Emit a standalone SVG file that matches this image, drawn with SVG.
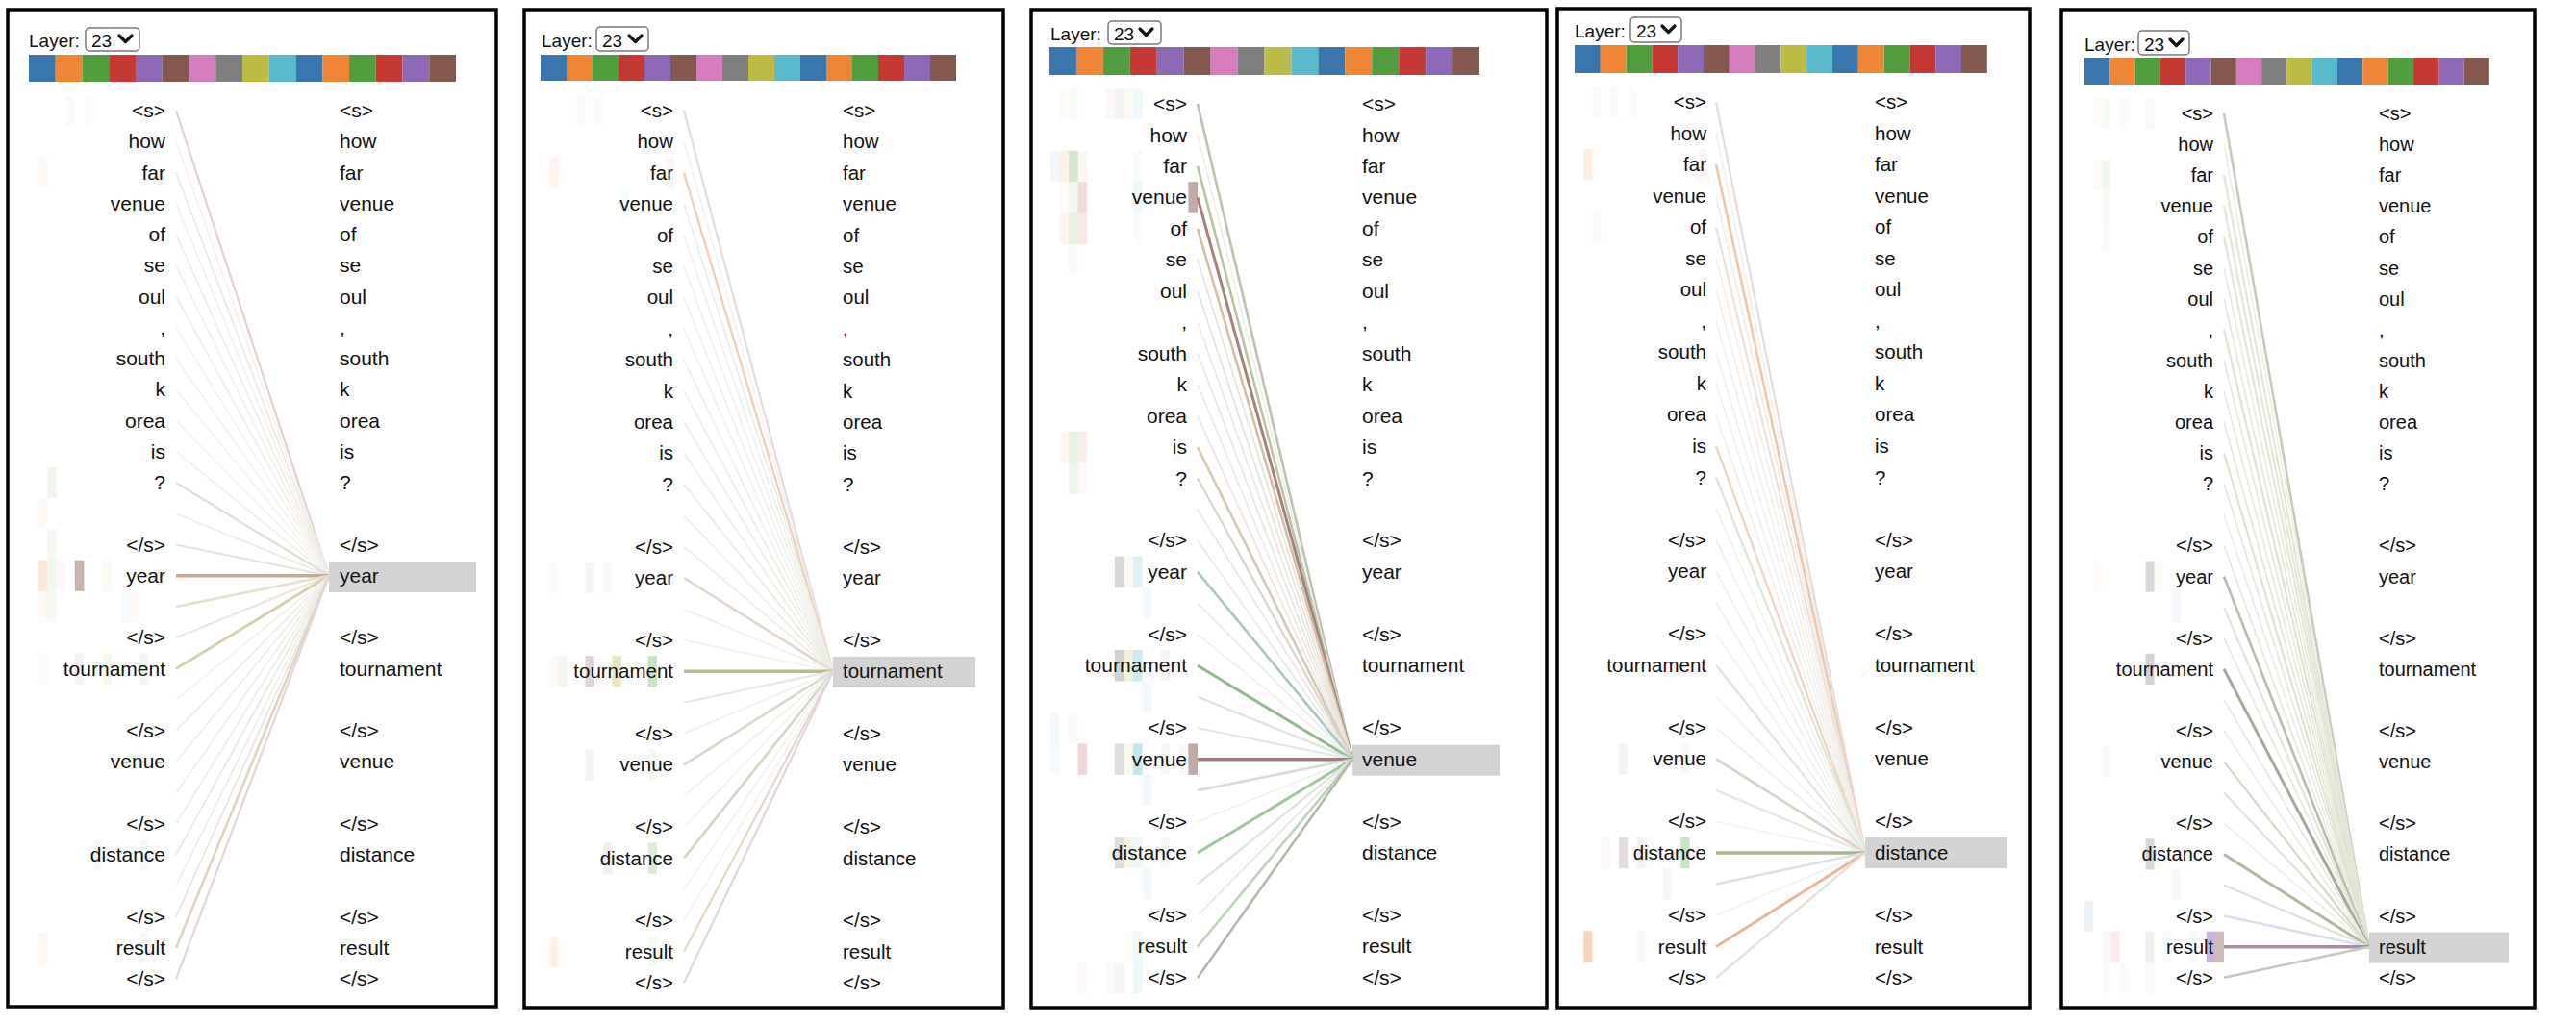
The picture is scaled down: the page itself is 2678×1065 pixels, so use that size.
<svg xmlns="http://www.w3.org/2000/svg" width="2678" height="1065" viewBox="0 0 2678 1065">
<style>
.frame{fill:#fff;stroke:#000;stroke-width:3.5}
.lbl{font-family:"Liberation Sans",Arial,sans-serif;font-size:19px;fill:#111}
.sel{fill:#fff;stroke:#777;stroke-width:1.5}
.chev{fill:none;stroke:#111;stroke-width:3.2;stroke-linecap:round;stroke-linejoin:round}
.tk{font-family:"Liberation Sans",Arial,sans-serif;fill:#111}
.l{text-anchor:end}
.hl{fill:#d3d3d3}
.c1{fill:#3a76ae}.c2{fill:#ef8636}.c3{fill:#519e3e}.c4{fill:#c53932}.c5{fill:#8d69b8}.c6{fill:#84584e}.c7{fill:#d57dbf}.c8{fill:#7f7f7f}.c9{fill:#bcbc45}.c10{fill:#57bbcc}
.conn line{fill:none}
</style>

<!-- ================= PANEL 1 ================= -->
<g id="panel-1">
<rect class="frame" x="8" y="10" width="508" height="1037"/>
<g id="p1-layer"><text class="lbl" x="30" y="49">Layer:</text><rect class="sel" x="89" y="29" width="56" height="24" rx="4"/><text class="lbl" x="95" y="49">23</text><path class="chev" d="M124,37 L130.5,43.5 L137,37"/></g>
<g id="p1-heads">
<rect class="c1" x="30" y="57" width="27.75" height="28"/><rect class="c2" x="57.75" y="57" width="27.75" height="28"/><rect class="c3" x="85.5" y="57" width="27.75" height="28"/><rect class="c4" x="113.25" y="57" width="27.75" height="28"/><rect class="c5" x="141" y="57" width="27.75" height="28"/><rect class="c6" x="168.75" y="57" width="27.75" height="28"/><rect class="c7" x="196.5" y="57" width="27.75" height="28"/><rect class="c8" x="224.25" y="57" width="27.75" height="28"/><rect class="c9" x="252" y="57" width="27.75" height="28"/><rect class="c10" x="279.75" y="57" width="27.75" height="28"/><rect class="c1" x="307.5" y="57" width="27.75" height="28"/><rect class="c2" x="335.25" y="57" width="27.75" height="28"/><rect class="c3" x="363" y="57" width="27.75" height="28"/><rect class="c4" x="390.75" y="57" width="27.75" height="28"/><rect class="c5" x="418.5" y="57" width="27.75" height="28"/><rect class="c6" x="446.25" y="57" width="27.75" height="28"/>
</g>
<g id="p1-heat">
<rect class="c5" x="68.2" y="99" width="9.6" height="32.3" fill-opacity="0.04"/><rect class="c7" x="87.4" y="99" width="9.6" height="32.3" fill-opacity="0.03"/>
<rect class="c2" x="39.6" y="163.4" width="9.6" height="32.3" fill-opacity="0.05"/>
<rect class="c3" x="49.1" y="485.9" width="9.6" height="32.3" fill-opacity="0.1"/>
<rect class="c2" x="39.6" y="518.1" width="9.6" height="32.3" fill-opacity="0.05"/>
<rect class="c3" x="49.1" y="550.4" width="9.6" height="32.3" fill-opacity="0.07"/>
<rect class="c2" x="39.6" y="582.6" width="9.6" height="32.3" fill-opacity="0.2"/><rect class="c3" x="49.1" y="582.6" width="9.6" height="32.3" fill-opacity="0.08"/><rect class="c4" x="58.7" y="582.6" width="9.6" height="32.3" fill-opacity="0.04"/><rect class="c6" x="77.8" y="582.6" width="9.6" height="32.3" fill-opacity="0.45"/><rect class="c9" x="106.5" y="582.6" width="9.6" height="32.3" fill-opacity="0.07"/>
<rect class="c2" x="39.6" y="614.9" width="9.6" height="32.3" fill-opacity="0.05"/><rect class="c3" x="49.1" y="614.9" width="9.6" height="32.3" fill-opacity="0.06"/><rect class="c1" x="125.6" y="614.9" width="9.6" height="32.3" fill-opacity="0.04"/><rect class="c2" x="135.2" y="614.9" width="9.6" height="32.3" fill-opacity="0.05"/>
<rect class="c2" x="39.6" y="679.4" width="9.6" height="32.3" fill-opacity="0.04"/><rect class="c6" x="77.8" y="679.4" width="9.6" height="32.3" fill-opacity="0.08"/><rect class="c9" x="106.5" y="679.4" width="9.6" height="32.3" fill-opacity="0.12"/><rect class="c3" x="144.7" y="679.4" width="9.6" height="32.3" fill-opacity="0.08"/>
<rect class="c8" x="96.9" y="872.9" width="9.6" height="32.3" fill-opacity="0.06"/><rect class="c3" x="144.7" y="872.9" width="9.6" height="32.3" fill-opacity="0.06"/>
<rect class="c2" x="39.6" y="969.6" width="9.6" height="32.3" fill-opacity="0.08"/><rect class="c3" x="144.7" y="969.6" width="9.6" height="32.3" fill-opacity="0.06"/>
</g>
<g id="p1-target-box"><rect class="hl" x="342" y="584" width="153" height="32"/></g>
<g class="conn" id="p1-connectors" stroke-width="1.6">
<line x1="183" y1="115" x2="342" y2="598.75" stroke="#e3d1cb" stroke-width="2.2"/>
<line x1="183" y1="147.25" x2="342" y2="598.75" stroke="#f5f1ee"/>
<line x1="183" y1="179.5" x2="342" y2="598.75" stroke="#efe6de"/>
<line x1="183" y1="211.75" x2="342" y2="598.75" stroke="#f3efea"/>
<line x1="183" y1="244" x2="342" y2="598.75" stroke="#f0eae3"/>
<line x1="183" y1="276.25" x2="342" y2="598.75" stroke="#f2eee8"/>
<line x1="183" y1="308.5" x2="342" y2="598.75" stroke="#f1ece5"/>
<line x1="183" y1="340.75" x2="342" y2="598.75" stroke="#f5f2ed"/>
<line x1="183" y1="373" x2="342" y2="598.75" stroke="#f4f1ec"/>
<line x1="183" y1="405.25" x2="342" y2="598.75" stroke="#f4f1ec"/>
<line x1="183" y1="437.5" x2="342" y2="598.75" stroke="#f4f1ec"/>
<line x1="183" y1="469.75" x2="342" y2="598.75" stroke="#eef0e6"/>
<line x1="183" y1="502" x2="342" y2="598.75" stroke="#dbe3d3" stroke-width="2.2"/>
<line x1="183" y1="534.25" x2="342" y2="598.75" stroke="#f1e8e2"/>
<line x1="183" y1="566.5" x2="342" y2="598.75" stroke="#e0e8da" stroke-width="2.2"/>
<line x1="183" y1="598.75" x2="342" y2="598.75" stroke="#c7aa8e" stroke-width="3.5"/>
<line x1="183" y1="631" x2="342" y2="598.75" stroke="#e6e0cc" stroke-width="2.6"/>
<line x1="183" y1="663.25" x2="342" y2="598.75" stroke="#ede8da" stroke-width="2.2"/>
<line x1="183" y1="695.5" x2="342" y2="598.75" stroke="#d6cfac" stroke-width="2.8"/>
<line x1="183" y1="727.75" x2="342" y2="598.75" stroke="#eff0e8"/>
<line x1="183" y1="760" x2="342" y2="598.75" stroke="#efede6"/>
<line x1="183" y1="792.25" x2="342" y2="598.75" stroke="#f0ece5"/>
<line x1="183" y1="824.5" x2="342" y2="598.75" stroke="#eeeee6"/>
<line x1="183" y1="856.75" x2="342" y2="598.75" stroke="#efebe3"/>
<line x1="183" y1="889" x2="342" y2="598.75" stroke="#eae8dd"/>
<line x1="183" y1="921.25" x2="342" y2="598.75" stroke="#efece5"/>
<line x1="183" y1="953.5" x2="342" y2="598.75" stroke="#eae4d8"/>
<line x1="183" y1="985.75" x2="342" y2="598.75" stroke="#e0d4bc" stroke-width="2.6"/>
<line x1="183" y1="1018" x2="342" y2="598.75" stroke="#e5d5d7" stroke-width="2.2"/>
</g>
<g id="p1-tokens" class="tk" font-size="21">
<g id="p1-L0"><text class="l" x="172" y="122">&lt;s&gt;</text></g><g id="p1-R0"><text x="353" y="122">&lt;s&gt;</text></g>
<g id="p1-L1"><text class="l" x="172" y="154.25">how</text></g><g id="p1-R1"><text x="353" y="154.25">how</text></g>
<g id="p1-L2"><text class="l" x="172" y="186.5">far</text></g><g id="p1-R2"><text x="353" y="186.5">far</text></g>
<g id="p1-L3"><text class="l" x="172" y="218.75">venue</text></g><g id="p1-R3"><text x="353" y="218.75">venue</text></g>
<g id="p1-L4"><text class="l" x="172" y="251">of</text></g><g id="p1-R4"><text x="353" y="251">of</text></g>
<g id="p1-L5"><text class="l" x="172" y="283.25">se</text></g><g id="p1-R5"><text x="353" y="283.25">se</text></g>
<g id="p1-L6"><text class="l" x="172" y="315.5">oul</text></g><g id="p1-R6"><text x="353" y="315.5">oul</text></g>
<g id="p1-L7"><text class="l" x="172" y="347.75">,</text></g><g id="p1-R7"><text x="353" y="347.75">,</text></g>
<g id="p1-L8"><text class="l" x="172" y="380">south</text></g><g id="p1-R8"><text x="353" y="380">south</text></g>
<g id="p1-L9"><text class="l" x="172" y="412.25">k</text></g><g id="p1-R9"><text x="353" y="412.25">k</text></g>
<g id="p1-L10"><text class="l" x="172" y="444.5">orea</text></g><g id="p1-R10"><text x="353" y="444.5">orea</text></g>
<g id="p1-L11"><text class="l" x="172" y="476.75">is</text></g><g id="p1-R11"><text x="353" y="476.75">is</text></g>
<g id="p1-L12"><text class="l" x="172" y="509">?</text></g><g id="p1-R12"><text x="353" y="509">?</text></g>
<g id="p1-L14"><text class="l" x="172" y="573.5">&lt;/s&gt;</text></g><g id="p1-R14"><text x="353" y="573.5">&lt;/s&gt;</text></g>
<g id="p1-L15"><text class="l" x="172" y="605.75">year</text></g><g id="p1-R15"><text x="353" y="605.75">year</text></g>
<g id="p1-L17"><text class="l" x="172" y="670.25">&lt;/s&gt;</text></g><g id="p1-R17"><text x="353" y="670.25">&lt;/s&gt;</text></g>
<g id="p1-L18"><text class="l" x="172" y="702.5">tournament</text></g><g id="p1-R18"><text x="353" y="702.5">tournament</text></g>
<g id="p1-L20"><text class="l" x="172" y="767">&lt;/s&gt;</text></g><g id="p1-R20"><text x="353" y="767">&lt;/s&gt;</text></g>
<g id="p1-L21"><text class="l" x="172" y="799.25">venue</text></g><g id="p1-R21"><text x="353" y="799.25">venue</text></g>
<g id="p1-L23"><text class="l" x="172" y="863.75">&lt;/s&gt;</text></g><g id="p1-R23"><text x="353" y="863.75">&lt;/s&gt;</text></g>
<g id="p1-L24"><text class="l" x="172" y="896">distance</text></g><g id="p1-R24"><text x="353" y="896">distance</text></g>
<g id="p1-L26"><text class="l" x="172" y="960.5">&lt;/s&gt;</text></g><g id="p1-R26"><text x="353" y="960.5">&lt;/s&gt;</text></g>
<g id="p1-L27"><text class="l" x="172" y="992.75">result</text></g><g id="p1-R27"><text x="353" y="992.75">result</text></g>
<g id="p1-L28"><text class="l" x="172" y="1025">&lt;/s&gt;</text></g><g id="p1-R28"><text x="353" y="1025">&lt;/s&gt;</text></g>
</g>
</g>

<!-- ================= PANEL 2 ================= -->
<g id="panel-2">
<rect class="frame" x="545" y="10" width="498" height="1038"/>
<g id="p2-layer"><text class="lbl" x="563" y="49">Layer:</text><rect class="sel" x="620" y="28" width="54" height="25" rx="4"/><text class="lbl" x="626" y="49">23</text><path class="chev" d="M654,37 L660.5,43.5 L667,37"/></g>
<g id="p2-heads">
<rect class="c1" x="562" y="57" width="27" height="27"/><rect class="c2" x="589" y="57" width="27" height="27"/><rect class="c3" x="616" y="57" width="27" height="27"/><rect class="c4" x="643" y="57" width="27" height="27"/><rect class="c5" x="670" y="57" width="27" height="27"/><rect class="c6" x="697" y="57" width="27" height="27"/><rect class="c7" x="724" y="57" width="27" height="27"/><rect class="c8" x="751" y="57" width="27" height="27"/><rect class="c9" x="778" y="57" width="27" height="27"/><rect class="c10" x="805" y="57" width="27" height="27"/><rect class="c1" x="832" y="57" width="27" height="27"/><rect class="c2" x="859" y="57" width="27" height="27"/><rect class="c3" x="886" y="57" width="27" height="27"/><rect class="c4" x="913" y="57" width="27" height="27"/><rect class="c5" x="940" y="57" width="27" height="27"/><rect class="c6" x="967" y="57" width="27" height="27"/>
</g>
<g id="p2-heat">
<rect class="c5" x="599.2" y="98.8" width="9.3" height="32.4" fill-opacity="0.04"/><rect class="c7" x="617.9" y="98.8" width="9.3" height="32.4" fill-opacity="0.04"/>
<rect class="c2" x="571.3" y="163.6" width="9.3" height="32.4" fill-opacity="0.09"/><rect class="c4" x="692.3" y="163.6" width="9.3" height="32.4" fill-opacity="0.05"/>
<rect class="c10" x="645.8" y="196" width="9.3" height="32.4" fill-opacity="0.05"/>
<rect class="c2" x="571.3" y="584.8" width="9.3" height="32.4" fill-opacity="0.05"/><rect class="c6" x="608.5" y="584.8" width="9.3" height="32.4" fill-opacity="0.07"/><rect class="c8" x="627.2" y="584.8" width="9.3" height="32.4" fill-opacity="0.05"/>
<rect class="c2" x="571.3" y="682" width="9.3" height="32.4" fill-opacity="0.05"/><rect class="c3" x="580.6" y="682" width="9.3" height="32.4" fill-opacity="0.08"/><rect class="c6" x="608.5" y="682" width="9.3" height="32.4" fill-opacity="0.25"/><rect class="c9" x="636.5" y="682" width="9.3" height="32.4" fill-opacity="0.35"/><rect class="c3" x="673.7" y="682" width="9.3" height="32.4" fill-opacity="0.3"/>
<rect class="c6" x="608.5" y="779.2" width="9.3" height="32.4" fill-opacity="0.08"/><rect class="c3" x="673.7" y="779.2" width="9.3" height="32.4" fill-opacity="0.07"/>
<rect class="c8" x="627.2" y="876.4" width="9.3" height="32.4" fill-opacity="0.12"/><rect class="c3" x="673.7" y="876.4" width="9.3" height="32.4" fill-opacity="0.2"/>
<rect class="c2" x="571.3" y="973.6" width="9.3" height="32.4" fill-opacity="0.1"/><rect class="c3" x="673.7" y="973.6" width="9.3" height="32.4" fill-opacity="0.06"/>
</g>
<g id="p2-target-box"><rect class="hl" x="866" y="683" width="148" height="32"/></g>
<g class="conn" id="p2-connectors" stroke-width="1.6">
<line x1="711" y1="115" x2="866" y2="698.2" stroke="#e8dada" stroke-width="2.2"/>
<line x1="711" y1="147.4" x2="866" y2="698.2" stroke="#f5f1ef"/>
<line x1="711" y1="179.8" x2="866" y2="698.2" stroke="#f1cdb0" stroke-width="2.2"/>
<line x1="711" y1="212.2" x2="866" y2="698.2" stroke="#e4ede9"/>
<line x1="711" y1="244.6" x2="866" y2="698.2" stroke="#edefe9"/>
<line x1="711" y1="277" x2="866" y2="698.2" stroke="#f0efe9"/>
<line x1="711" y1="309.4" x2="866" y2="698.2" stroke="#f0eee8"/>
<line x1="711" y1="341.8" x2="866" y2="698.2" stroke="#f1efe9"/>
<line x1="711" y1="374.2" x2="866" y2="698.2" stroke="#edf0e7"/>
<line x1="711" y1="406.6" x2="866" y2="698.2" stroke="#e9efe3"/>
<line x1="711" y1="439" x2="866" y2="698.2" stroke="#e8efe1"/>
<line x1="711" y1="471.4" x2="866" y2="698.2" stroke="#e9efe2"/>
<line x1="711" y1="503.8" x2="866" y2="698.2" stroke="#e4ecdd"/>
<line x1="711" y1="536.2" x2="866" y2="698.2" stroke="#f0ebe7"/>
<line x1="711" y1="568.6" x2="866" y2="698.2" stroke="#e8eee3"/>
<line x1="711" y1="601" x2="866" y2="698.2" stroke="#e3d7ca" stroke-width="2.6"/>
<line x1="711" y1="633.4" x2="866" y2="698.2" stroke="#f0eeea"/>
<line x1="711" y1="665.8" x2="866" y2="698.2" stroke="#eef1ec"/>
<line x1="711" y1="698.2" x2="866" y2="698.2" stroke="#b4bf8c" stroke-width="3.5"/>
<line x1="711" y1="730.6" x2="866" y2="698.2" stroke="#efe4e2" stroke-width="2.2"/>
<line x1="711" y1="763" x2="866" y2="698.2" stroke="#f1eded"/>
<line x1="711" y1="795.4" x2="866" y2="698.2" stroke="#d6dcc9" stroke-width="2.6"/>
<line x1="711" y1="827.8" x2="866" y2="698.2" stroke="#eef0e5"/>
<line x1="711" y1="860.2" x2="866" y2="698.2" stroke="#f2f0ed"/>
<line x1="711" y1="892.6" x2="866" y2="698.2" stroke="#cddbc4" stroke-width="2.6"/>
<line x1="711" y1="925" x2="866" y2="698.2" stroke="#eff0ef"/>
<line x1="711" y1="957.4" x2="866" y2="698.2" stroke="#f3f1ef"/>
<line x1="711" y1="989.8" x2="866" y2="698.2" stroke="#e5d7c3" stroke-width="2.2"/>
<line x1="711" y1="1022.2" x2="866" y2="698.2" stroke="#e2d4e1" stroke-width="2.2"/>
</g>
<g id="p2-tokens" class="tk" font-size="20.5">
<g id="p2-L0"><text class="l" x="700" y="122">&lt;s&gt;</text></g><g id="p2-R0"><text x="876" y="122">&lt;s&gt;</text></g>
<g id="p2-L1"><text class="l" x="700" y="154.4">how</text></g><g id="p2-R1"><text x="876" y="154.4">how</text></g>
<g id="p2-L2"><text class="l" x="700" y="186.8">far</text></g><g id="p2-R2"><text x="876" y="186.8">far</text></g>
<g id="p2-L3"><text class="l" x="700" y="219.2">venue</text></g><g id="p2-R3"><text x="876" y="219.2">venue</text></g>
<g id="p2-L4"><text class="l" x="700" y="251.6">of</text></g><g id="p2-R4"><text x="876" y="251.6">of</text></g>
<g id="p2-L5"><text class="l" x="700" y="284">se</text></g><g id="p2-R5"><text x="876" y="284">se</text></g>
<g id="p2-L6"><text class="l" x="700" y="316.4">oul</text></g><g id="p2-R6"><text x="876" y="316.4">oul</text></g>
<g id="p2-L7"><text class="l" x="700" y="348.8">,</text></g><g id="p2-R7"><text x="876" y="348.8">,</text></g>
<g id="p2-L8"><text class="l" x="700" y="381.2">south</text></g><g id="p2-R8"><text x="876" y="381.2">south</text></g>
<g id="p2-L9"><text class="l" x="700" y="413.6">k</text></g><g id="p2-R9"><text x="876" y="413.6">k</text></g>
<g id="p2-L10"><text class="l" x="700" y="446">orea</text></g><g id="p2-R10"><text x="876" y="446">orea</text></g>
<g id="p2-L11"><text class="l" x="700" y="478.4">is</text></g><g id="p2-R11"><text x="876" y="478.4">is</text></g>
<g id="p2-L12"><text class="l" x="700" y="510.8">?</text></g><g id="p2-R12"><text x="876" y="510.8">?</text></g>
<g id="p2-L14"><text class="l" x="700" y="575.6">&lt;/s&gt;</text></g><g id="p2-R14"><text x="876" y="575.6">&lt;/s&gt;</text></g>
<g id="p2-L15"><text class="l" x="700" y="608">year</text></g><g id="p2-R15"><text x="876" y="608">year</text></g>
<g id="p2-L17"><text class="l" x="700" y="672.8">&lt;/s&gt;</text></g><g id="p2-R17"><text x="876" y="672.8">&lt;/s&gt;</text></g>
<g id="p2-L18"><text class="l" x="700" y="705.2">tournament</text></g><g id="p2-R18"><text x="876" y="705.2">tournament</text></g>
<g id="p2-L20"><text class="l" x="700" y="770">&lt;/s&gt;</text></g><g id="p2-R20"><text x="876" y="770">&lt;/s&gt;</text></g>
<g id="p2-L21"><text class="l" x="700" y="802.4">venue</text></g><g id="p2-R21"><text x="876" y="802.4">venue</text></g>
<g id="p2-L23"><text class="l" x="700" y="867.2">&lt;/s&gt;</text></g><g id="p2-R23"><text x="876" y="867.2">&lt;/s&gt;</text></g>
<g id="p2-L24"><text class="l" x="700" y="899.6">distance</text></g><g id="p2-R24"><text x="876" y="899.6">distance</text></g>
<g id="p2-L26"><text class="l" x="700" y="964.4">&lt;/s&gt;</text></g><g id="p2-R26"><text x="876" y="964.4">&lt;/s&gt;</text></g>
<g id="p2-L27"><text class="l" x="700" y="996.8">result</text></g><g id="p2-R27"><text x="876" y="996.8">result</text></g>
<g id="p2-L28"><text class="l" x="700" y="1029.2">&lt;/s&gt;</text></g><g id="p2-R28"><text x="876" y="1029.2">&lt;/s&gt;</text></g>
</g>
</g>

<!-- ================= PANEL 3 ================= -->
<g id="panel-3">
<rect class="frame" x="1072" y="10" width="536" height="1038"/>
<g id="p3-layer"><text class="lbl" x="1092" y="42">Layer:</text><rect class="sel" x="1152" y="22" width="55" height="24" rx="4"/><text class="lbl" x="1158" y="42">23</text><path class="chev" d="M1185,30 L1191.5,36.5 L1198,30"/></g>
<g id="p3-heads">
<rect class="c1" x="1091" y="49" width="27.94" height="29"/><rect class="c2" x="1118.94" y="49" width="27.94" height="29"/><rect class="c3" x="1146.88" y="49" width="27.94" height="29"/><rect class="c4" x="1174.82" y="49" width="27.94" height="29"/><rect class="c5" x="1202.76" y="49" width="27.94" height="29"/><rect class="c6" x="1230.7" y="49" width="27.94" height="29"/><rect class="c7" x="1258.64" y="49" width="27.94" height="29"/><rect class="c8" x="1286.58" y="49" width="27.94" height="29"/><rect class="c9" x="1314.52" y="49" width="27.94" height="29"/><rect class="c10" x="1342.46" y="49" width="27.94" height="29"/><rect class="c1" x="1370.4" y="49" width="27.94" height="29"/><rect class="c2" x="1398.34" y="49" width="27.94" height="29"/><rect class="c3" x="1426.28" y="49" width="27.94" height="29"/><rect class="c4" x="1454.22" y="49" width="27.94" height="29"/><rect class="c5" x="1482.16" y="49" width="27.94" height="29"/><rect class="c6" x="1510.1" y="49" width="27.94" height="29"/>
</g>
<g id="p3-heat">
<rect class="c2" x="1101.6" y="91.8" width="9.6" height="32.5" fill-opacity="0.04"/><rect class="c3" x="1111.1" y="91.8" width="9.6" height="32.5" fill-opacity="0.04"/><rect class="c7" x="1149.4" y="91.8" width="9.6" height="32.5" fill-opacity="0.06"/><rect class="c8" x="1158.9" y="91.8" width="9.6" height="32.5" fill-opacity="0.1"/><rect class="c9" x="1168.5" y="91.8" width="9.6" height="32.5" fill-opacity="0.07"/><rect class="c10" x="1178" y="91.8" width="9.6" height="32.5" fill-opacity="0.1"/>
<rect class="c1" x="1092" y="156.7" width="9.6" height="32.5" fill-opacity="0.06"/><rect class="c2" x="1101.6" y="156.7" width="9.6" height="32.5" fill-opacity="0.12"/><rect class="c3" x="1111.1" y="156.7" width="9.6" height="32.5" fill-opacity="0.25"/><rect class="c4" x="1120.7" y="156.7" width="9.6" height="32.5" fill-opacity="0.05"/><rect class="c10" x="1178" y="156.7" width="9.6" height="32.5" fill-opacity="0.05"/>
<rect class="c2" x="1101.6" y="189.1" width="9.6" height="32.5" fill-opacity="0.04"/><rect class="c3" x="1111.1" y="189.1" width="9.6" height="32.5" fill-opacity="0.08"/><rect class="c4" x="1120.7" y="189.1" width="9.6" height="32.5" fill-opacity="0.18"/><rect class="c10" x="1178" y="189.1" width="9.6" height="32.5" fill-opacity="0.1"/><rect class="c6" x="1235.4" y="189.1" width="9.6" height="32.5" fill-opacity="0.5"/>
<rect class="c2" x="1101.6" y="221.6" width="9.6" height="32.5" fill-opacity="0.1"/><rect class="c3" x="1111.1" y="221.6" width="9.6" height="32.5" fill-opacity="0.15"/><rect class="c4" x="1120.7" y="221.6" width="9.6" height="32.5" fill-opacity="0.12"/><rect class="c10" x="1178" y="221.6" width="9.6" height="32.5" fill-opacity="0.04"/>
<rect class="c3" x="1111.1" y="254" width="9.6" height="32.5" fill-opacity="0.04"/>
<rect class="c2" x="1101.6" y="448.8" width="9.6" height="32.5" fill-opacity="0.08"/><rect class="c3" x="1111.1" y="448.8" width="9.6" height="32.5" fill-opacity="0.15"/><rect class="c4" x="1120.7" y="448.8" width="9.6" height="32.5" fill-opacity="0.1"/>
<rect class="c3" x="1111.1" y="481.3" width="9.6" height="32.5" fill-opacity="0.1"/><rect class="c4" x="1120.7" y="481.3" width="9.6" height="32.5" fill-opacity="0.04"/>
<rect class="c8" x="1158.9" y="578.7" width="9.6" height="32.5" fill-opacity="0.3"/><rect class="c9" x="1168.5" y="578.7" width="9.6" height="32.5" fill-opacity="0.08"/><rect class="c10" x="1178" y="578.7" width="9.6" height="32.5" fill-opacity="0.2"/>
<rect class="c1" x="1187.6" y="611.1" width="9.6" height="32.5" fill-opacity="0.05"/>
<rect class="c8" x="1158.9" y="676" width="9.6" height="32.5" fill-opacity="0.35"/><rect class="c9" x="1168.5" y="676" width="9.6" height="32.5" fill-opacity="0.2"/><rect class="c10" x="1178" y="676" width="9.6" height="32.5" fill-opacity="0.3"/><rect class="c3" x="1206.7" y="676" width="9.6" height="32.5" fill-opacity="0.08"/>
<rect class="c1" x="1187.6" y="708.5" width="9.6" height="32.5" fill-opacity="0.06"/>
<rect class="c1" x="1092" y="741" width="9.6" height="32.5" fill-opacity="0.05"/><rect class="c3" x="1111.1" y="741" width="9.6" height="32.5" fill-opacity="0.04"/>
<rect class="c1" x="1092" y="773.4" width="9.6" height="32.5" fill-opacity="0.04"/><rect class="c4" x="1120.7" y="773.4" width="9.6" height="32.5" fill-opacity="0.2"/><rect class="c8" x="1158.9" y="773.4" width="9.6" height="32.5" fill-opacity="0.25"/><rect class="c9" x="1168.5" y="773.4" width="9.6" height="32.5" fill-opacity="0.1"/><rect class="c10" x="1178" y="773.4" width="9.6" height="32.5" fill-opacity="0.35"/><rect class="c3" x="1206.7" y="773.4" width="9.6" height="32.5" fill-opacity="0.06"/><rect class="c5" x="1225.8" y="773.4" width="9.6" height="32.5" fill-opacity="0.05"/><rect class="c6" x="1235.4" y="773.4" width="9.6" height="32.5" fill-opacity="0.5"/>
<rect class="c1" x="1187.6" y="805.9" width="9.6" height="32.5" fill-opacity="0.06"/>
<rect class="c8" x="1158.9" y="870.8" width="9.6" height="32.5" fill-opacity="0.25"/><rect class="c9" x="1168.5" y="870.8" width="9.6" height="32.5" fill-opacity="0.15"/><rect class="c10" x="1178" y="870.8" width="9.6" height="32.5" fill-opacity="0.12"/><rect class="c3" x="1206.7" y="870.8" width="9.6" height="32.5" fill-opacity="0.06"/>
<rect class="c1" x="1187.6" y="903.2" width="9.6" height="32.5" fill-opacity="0.06"/>
<rect class="c9" x="1168.5" y="968.2" width="9.6" height="32.5" fill-opacity="0.06"/><rect class="c10" x="1178" y="968.2" width="9.6" height="32.5" fill-opacity="0.1"/>
<rect class="c4" x="1120.7" y="1000.6" width="9.6" height="32.5" fill-opacity="0.04"/><rect class="c7" x="1149.4" y="1000.6" width="9.6" height="32.5" fill-opacity="0.05"/><rect class="c8" x="1158.9" y="1000.6" width="9.6" height="32.5" fill-opacity="0.08"/><rect class="c10" x="1178" y="1000.6" width="9.6" height="32.5" fill-opacity="0.1"/>
</g>
<g id="p3-target-box"><rect class="hl" x="1406" y="774.7" width="153" height="32"/></g>
<g class="conn" id="p3-connectors" stroke-width="1.6">
<line x1="1245" y1="108" x2="1406" y2="789.66" stroke="#bcc1b0" stroke-width="2.6"/>
<line x1="1245" y1="140.46" x2="1406" y2="789.66" stroke="#eceee8"/>
<line x1="1245" y1="172.92" x2="1406" y2="789.66" stroke="#b9c5a0" stroke-width="2.6"/>
<line x1="1245" y1="205.38" x2="1406" y2="789.66" stroke="#a6807c" stroke-width="3"/>
<line x1="1245" y1="237.84" x2="1406" y2="789.66" stroke="#d3bea5" stroke-width="2.6"/>
<line x1="1245" y1="270.3" x2="1406" y2="789.66" stroke="#e6e2da"/>
<line x1="1245" y1="302.76" x2="1406" y2="789.66" stroke="#e7e1d9"/>
<line x1="1245" y1="335.22" x2="1406" y2="789.66" stroke="#ebe6de"/>
<line x1="1245" y1="367.68" x2="1406" y2="789.66" stroke="#e9e4de"/>
<line x1="1245" y1="400.14" x2="1406" y2="789.66" stroke="#ece8e2"/>
<line x1="1245" y1="432.6" x2="1406" y2="789.66" stroke="#ebe6df"/>
<line x1="1245" y1="465.06" x2="1406" y2="789.66" stroke="#d8c8b3" stroke-width="2.6"/>
<line x1="1245" y1="497.52" x2="1406" y2="789.66" stroke="#d6d8cf" stroke-width="2.2"/>
<line x1="1245" y1="529.98" x2="1406" y2="789.66" stroke="#eee2e3"/>
<line x1="1245" y1="562.44" x2="1406" y2="789.66" stroke="#e7e8e3"/>
<line x1="1245" y1="594.9" x2="1406" y2="789.66" stroke="#aac7bf" stroke-width="2.6"/>
<line x1="1245" y1="627.36" x2="1406" y2="789.66" stroke="#e6ece9"/>
<line x1="1245" y1="659.82" x2="1406" y2="789.66" stroke="#ecefec"/>
<line x1="1245" y1="692.28" x2="1406" y2="789.66" stroke="#93ba8f" stroke-width="3"/>
<line x1="1245" y1="724.74" x2="1406" y2="789.66" stroke="#dfe3de" stroke-width="2.2"/>
<line x1="1245" y1="757.2" x2="1406" y2="789.66" stroke="#e2e8e9" stroke-width="2.2"/>
<line x1="1245" y1="789.66" x2="1406" y2="789.66" stroke="#9b7f7b" stroke-width="3.5"/>
<line x1="1245" y1="822.12" x2="1406" y2="789.66" stroke="#dadada" stroke-width="2.6"/>
<line x1="1245" y1="854.58" x2="1406" y2="789.66" stroke="#eff1ec"/>
<line x1="1245" y1="887.04" x2="1406" y2="789.66" stroke="#9fc69c" stroke-width="3"/>
<line x1="1245" y1="919.5" x2="1406" y2="789.66" stroke="#dee3dc" stroke-width="2.2"/>
<line x1="1245" y1="951.96" x2="1406" y2="789.66" stroke="#e6eae3"/>
<line x1="1245" y1="984.42" x2="1406" y2="789.66" stroke="#bad4b6" stroke-width="2.6"/>
<line x1="1245" y1="1016.88" x2="1406" y2="789.66" stroke="#b5b7aa" stroke-width="2.6"/>
</g>
<g id="p3-tokens" class="tk" font-size="21">
<g id="p3-L0"><text class="l" x="1234" y="115">&lt;s&gt;</text></g><g id="p3-R0"><text x="1416" y="115">&lt;s&gt;</text></g>
<g id="p3-L1"><text class="l" x="1234" y="147.5">how</text></g><g id="p3-R1"><text x="1416" y="147.5">how</text></g>
<g id="p3-L2"><text class="l" x="1234" y="179.9">far</text></g><g id="p3-R2"><text x="1416" y="179.9">far</text></g>
<g id="p3-L3"><text class="l" x="1234" y="212.4">venue</text></g><g id="p3-R3"><text x="1416" y="212.4">venue</text></g>
<g id="p3-L4"><text class="l" x="1234" y="244.8">of</text></g><g id="p3-R4"><text x="1416" y="244.8">of</text></g>
<g id="p3-L5"><text class="l" x="1234" y="277.3">se</text></g><g id="p3-R5"><text x="1416" y="277.3">se</text></g>
<g id="p3-L6"><text class="l" x="1234" y="309.8">oul</text></g><g id="p3-R6"><text x="1416" y="309.8">oul</text></g>
<g id="p3-L7"><text class="l" x="1234" y="342.2">,</text></g><g id="p3-R7"><text x="1416" y="342.2">,</text></g>
<g id="p3-L8"><text class="l" x="1234" y="374.7">south</text></g><g id="p3-R8"><text x="1416" y="374.7">south</text></g>
<g id="p3-L9"><text class="l" x="1234" y="407.1">k</text></g><g id="p3-R9"><text x="1416" y="407.1">k</text></g>
<g id="p3-L10"><text class="l" x="1234" y="439.6">orea</text></g><g id="p3-R10"><text x="1416" y="439.6">orea</text></g>
<g id="p3-L11"><text class="l" x="1234" y="472.1">is</text></g><g id="p3-R11"><text x="1416" y="472.1">is</text></g>
<g id="p3-L12"><text class="l" x="1234" y="504.5">?</text></g><g id="p3-R12"><text x="1416" y="504.5">?</text></g>
<g id="p3-L14"><text class="l" x="1234" y="569.4">&lt;/s&gt;</text></g><g id="p3-R14"><text x="1416" y="569.4">&lt;/s&gt;</text></g>
<g id="p3-L15"><text class="l" x="1234" y="601.9">year</text></g><g id="p3-R15"><text x="1416" y="601.9">year</text></g>
<g id="p3-L17"><text class="l" x="1234" y="666.8">&lt;/s&gt;</text></g><g id="p3-R17"><text x="1416" y="666.8">&lt;/s&gt;</text></g>
<g id="p3-L18"><text class="l" x="1234" y="699.3">tournament</text></g><g id="p3-R18"><text x="1416" y="699.3">tournament</text></g>
<g id="p3-L20"><text class="l" x="1234" y="764.2">&lt;/s&gt;</text></g><g id="p3-R20"><text x="1416" y="764.2">&lt;/s&gt;</text></g>
<g id="p3-L21"><text class="l" x="1234" y="796.7">venue</text></g><g id="p3-R21"><text x="1416" y="796.7">venue</text></g>
<g id="p3-L23"><text class="l" x="1234" y="861.6">&lt;/s&gt;</text></g><g id="p3-R23"><text x="1416" y="861.6">&lt;/s&gt;</text></g>
<g id="p3-L24"><text class="l" x="1234" y="894">distance</text></g><g id="p3-R24"><text x="1416" y="894">distance</text></g>
<g id="p3-L26"><text class="l" x="1234" y="959">&lt;/s&gt;</text></g><g id="p3-R26"><text x="1416" y="959">&lt;/s&gt;</text></g>
<g id="p3-L27"><text class="l" x="1234" y="991.4">result</text></g><g id="p3-R27"><text x="1416" y="991.4">result</text></g>
<g id="p3-L28"><text class="l" x="1234" y="1023.9">&lt;/s&gt;</text></g><g id="p3-R28"><text x="1416" y="1023.9">&lt;/s&gt;</text></g>
</g>
</g>

<!-- ================= PANEL 4 ================= -->
<g id="panel-4">
<rect class="frame" x="1619" y="9" width="491" height="1039"/>
<g id="p4-layer"><text class="lbl" x="1637" y="39">Layer:</text><rect class="sel" x="1695" y="18" width="53" height="26" rx="4"/><text class="lbl" x="1701" y="39">23</text><path class="chev" d="M1728,27 L1734.5,33.5 L1741,27"/></g>
<g id="p4-heads">
<rect class="c1" x="1637" y="47" width="26.8" height="29"/><rect class="c2" x="1663.8" y="47" width="26.8" height="29"/><rect class="c3" x="1690.6" y="47" width="26.8" height="29"/><rect class="c4" x="1717.4" y="47" width="26.8" height="29"/><rect class="c5" x="1744.2" y="47" width="26.8" height="29"/><rect class="c6" x="1771" y="47" width="26.8" height="29"/><rect class="c7" x="1797.8" y="47" width="26.8" height="29"/><rect class="c8" x="1824.6" y="47" width="26.8" height="29"/><rect class="c9" x="1851.4" y="47" width="26.8" height="29"/><rect class="c10" x="1878.2" y="47" width="26.8" height="29"/><rect class="c1" x="1905" y="47" width="26.8" height="29"/><rect class="c2" x="1931.8" y="47" width="26.8" height="29"/><rect class="c3" x="1958.6" y="47" width="26.8" height="29"/><rect class="c4" x="1985.4" y="47" width="26.8" height="29"/><rect class="c5" x="2012.2" y="47" width="26.8" height="29"/><rect class="c6" x="2039" y="47" width="26.8" height="29"/>
</g>
<g id="p4-heat">
<rect class="c3" x="1655.4" y="89.7" width="9.2" height="32.5" fill-opacity="0.04"/><rect class="c5" x="1673.8" y="89.7" width="9.2" height="32.5" fill-opacity="0.04"/><rect class="c7" x="1692.1" y="89.7" width="9.2" height="32.5" fill-opacity="0.04"/>
<rect class="c2" x="1646.2" y="154.8" width="9.2" height="32.5" fill-opacity="0.15"/><rect class="c4" x="1765.7" y="154.8" width="9.2" height="32.5" fill-opacity="0.05"/>
<rect class="c3" x="1655.4" y="219.9" width="9.2" height="32.5" fill-opacity="0.04"/>
<rect class="c6" x="1683" y="773.1" width="9.2" height="32.5" fill-opacity="0.08"/><rect class="c3" x="1747.3" y="773.1" width="9.2" height="32.5" fill-opacity="0.05"/>
<rect class="c4" x="1664.6" y="870.7" width="9.2" height="32.5" fill-opacity="0.04"/><rect class="c6" x="1683" y="870.7" width="9.2" height="32.5" fill-opacity="0.2"/><rect class="c8" x="1701.3" y="870.7" width="9.2" height="32.5" fill-opacity="0.1"/><rect class="c9" x="1710.5" y="870.7" width="9.2" height="32.5" fill-opacity="0.06"/><rect class="c3" x="1747.3" y="870.7" width="9.2" height="32.5" fill-opacity="0.3"/>
<rect class="c1" x="1728.9" y="903.2" width="9.2" height="32.5" fill-opacity="0.06"/>
<rect class="c2" x="1646.2" y="968.3" width="9.2" height="32.5" fill-opacity="0.35"/><rect class="c8" x="1701.3" y="968.3" width="9.2" height="32.5" fill-opacity="0.05"/>
</g>
<g id="p4-target-box"><rect class="hl" x="1939" y="871" width="147" height="32"/></g>
<g class="conn" id="p4-connectors" stroke-width="1.6">
<line x1="1784" y1="106" x2="1939" y2="886.96" stroke="#e4dcd8" stroke-width="2.2"/>
<line x1="1784" y1="138.54" x2="1939" y2="886.96" stroke="#f3efec"/>
<line x1="1784" y1="171.08" x2="1939" y2="886.96" stroke="#efc6a7" stroke-width="2.6"/>
<line x1="1784" y1="203.62" x2="1939" y2="886.96" stroke="#efebe7"/>
<line x1="1784" y1="236.16" x2="1939" y2="886.96" stroke="#eee1d5" stroke-width="2.2"/>
<line x1="1784" y1="268.7" x2="1939" y2="886.96" stroke="#f2eeea"/>
<line x1="1784" y1="301.24" x2="1939" y2="886.96" stroke="#f1ede8"/>
<line x1="1784" y1="333.78" x2="1939" y2="886.96" stroke="#f1eee9"/>
<line x1="1784" y1="366.32" x2="1939" y2="886.96" stroke="#f1eeea"/>
<line x1="1784" y1="398.86" x2="1939" y2="886.96" stroke="#f1efeb"/>
<line x1="1784" y1="431.4" x2="1939" y2="886.96" stroke="#f0ede9"/>
<line x1="1784" y1="463.94" x2="1939" y2="886.96" stroke="#efd2bc" stroke-width="2.2"/>
<line x1="1784" y1="496.48" x2="1939" y2="886.96" stroke="#dbe7d2" stroke-width="2.2"/>
<line x1="1784" y1="529.02" x2="1939" y2="886.96" stroke="#f3eeea"/>
<line x1="1784" y1="561.56" x2="1939" y2="886.96" stroke="#eff0eb"/>
<line x1="1784" y1="594.1" x2="1939" y2="886.96" stroke="#edf0e9"/>
<line x1="1784" y1="626.64" x2="1939" y2="886.96" stroke="#eef0eb"/>
<line x1="1784" y1="659.18" x2="1939" y2="886.96" stroke="#f2f1f0"/>
<line x1="1784" y1="691.72" x2="1939" y2="886.96" stroke="#dee7d8" stroke-width="2.2"/>
<line x1="1784" y1="724.26" x2="1939" y2="886.96" stroke="#eef1ed"/>
<line x1="1784" y1="756.8" x2="1939" y2="886.96" stroke="#ebeeec"/>
<line x1="1784" y1="789.34" x2="1939" y2="886.96" stroke="#dbd1c7" stroke-width="2.6"/>
<line x1="1784" y1="821.88" x2="1939" y2="886.96" stroke="#ebe5de" stroke-width="2.2"/>
<line x1="1784" y1="854.42" x2="1939" y2="886.96" stroke="#f1f2f2"/>
<line x1="1784" y1="886.96" x2="1939" y2="886.96" stroke="#a9b790" stroke-width="3.5"/>
<line x1="1784" y1="919.5" x2="1939" y2="886.96" stroke="#dce1e7" stroke-width="2.6"/>
<line x1="1784" y1="952.04" x2="1939" y2="886.96" stroke="#f1f1ef"/>
<line x1="1784" y1="984.58" x2="1939" y2="886.96" stroke="#e9b696" stroke-width="3"/>
<line x1="1784" y1="1017.12" x2="1939" y2="886.96" stroke="#e6e0d8" stroke-width="2.2"/>
</g>
<g id="p4-tokens" class="tk" font-size="20.5">
<g id="p4-L0"><text class="l" x="1774" y="113">&lt;s&gt;</text></g><g id="p4-R0"><text x="1949" y="113">&lt;s&gt;</text></g>
<g id="p4-L1"><text class="l" x="1774" y="145.5">how</text></g><g id="p4-R1"><text x="1949" y="145.5">how</text></g>
<g id="p4-L2"><text class="l" x="1774" y="178.1">far</text></g><g id="p4-R2"><text x="1949" y="178.1">far</text></g>
<g id="p4-L3"><text class="l" x="1774" y="210.6">venue</text></g><g id="p4-R3"><text x="1949" y="210.6">venue</text></g>
<g id="p4-L4"><text class="l" x="1774" y="243.2">of</text></g><g id="p4-R4"><text x="1949" y="243.2">of</text></g>
<g id="p4-L5"><text class="l" x="1774" y="275.7">se</text></g><g id="p4-R5"><text x="1949" y="275.7">se</text></g>
<g id="p4-L6"><text class="l" x="1774" y="308.2">oul</text></g><g id="p4-R6"><text x="1949" y="308.2">oul</text></g>
<g id="p4-L7"><text class="l" x="1774" y="340.8">,</text></g><g id="p4-R7"><text x="1949" y="340.8">,</text></g>
<g id="p4-L8"><text class="l" x="1774" y="373.3">south</text></g><g id="p4-R8"><text x="1949" y="373.3">south</text></g>
<g id="p4-L9"><text class="l" x="1774" y="405.9">k</text></g><g id="p4-R9"><text x="1949" y="405.9">k</text></g>
<g id="p4-L10"><text class="l" x="1774" y="438.4">orea</text></g><g id="p4-R10"><text x="1949" y="438.4">orea</text></g>
<g id="p4-L11"><text class="l" x="1774" y="470.9">is</text></g><g id="p4-R11"><text x="1949" y="470.9">is</text></g>
<g id="p4-L12"><text class="l" x="1774" y="503.5">?</text></g><g id="p4-R12"><text x="1949" y="503.5">?</text></g>
<g id="p4-L14"><text class="l" x="1774" y="568.6">&lt;/s&gt;</text></g><g id="p4-R14"><text x="1949" y="568.6">&lt;/s&gt;</text></g>
<g id="p4-L15"><text class="l" x="1774" y="601.1">year</text></g><g id="p4-R15"><text x="1949" y="601.1">year</text></g>
<g id="p4-L17"><text class="l" x="1774" y="666.2">&lt;/s&gt;</text></g><g id="p4-R17"><text x="1949" y="666.2">&lt;/s&gt;</text></g>
<g id="p4-L18"><text class="l" x="1774" y="698.7">tournament</text></g><g id="p4-R18"><text x="1949" y="698.7">tournament</text></g>
<g id="p4-L20"><text class="l" x="1774" y="763.8">&lt;/s&gt;</text></g><g id="p4-R20"><text x="1949" y="763.8">&lt;/s&gt;</text></g>
<g id="p4-L21"><text class="l" x="1774" y="796.3">venue</text></g><g id="p4-R21"><text x="1949" y="796.3">venue</text></g>
<g id="p4-L23"><text class="l" x="1774" y="861.4">&lt;/s&gt;</text></g><g id="p4-R23"><text x="1949" y="861.4">&lt;/s&gt;</text></g>
<g id="p4-L24"><text class="l" x="1774" y="894">distance</text></g><g id="p4-R24"><text x="1949" y="894">distance</text></g>
<g id="p4-L26"><text class="l" x="1774" y="959">&lt;/s&gt;</text></g><g id="p4-R26"><text x="1949" y="959">&lt;/s&gt;</text></g>
<g id="p4-L27"><text class="l" x="1774" y="991.6">result</text></g><g id="p4-R27"><text x="1949" y="991.6">result</text></g>
<g id="p4-L28"><text class="l" x="1774" y="1024.1">&lt;/s&gt;</text></g><g id="p4-R28"><text x="1949" y="1024.1">&lt;/s&gt;</text></g>
</g>
</g>

<!-- ================= PANEL 5 ================= -->
<g id="panel-5">
<rect class="frame" x="2143" y="10" width="492" height="1038"/>
<g id="p5-layer"><text class="lbl" x="2167" y="53">Layer:</text><rect class="sel" x="2223" y="32" width="53" height="25" rx="4"/><text class="lbl" x="2229" y="53">23</text><path class="chev" d="M2256,41 L2262.5,47.5 L2269,41"/></g>
<g id="p5-heads">
<rect class="c1" x="2167" y="60" width="26.3" height="28"/><rect class="c2" x="2193.3" y="60" width="26.3" height="28"/><rect class="c3" x="2219.6" y="60" width="26.3" height="28"/><rect class="c4" x="2245.9" y="60" width="26.3" height="28"/><rect class="c5" x="2272.2" y="60" width="26.3" height="28"/><rect class="c6" x="2298.5" y="60" width="26.3" height="28"/><rect class="c7" x="2324.8" y="60" width="26.3" height="28"/><rect class="c8" x="2351.1" y="60" width="26.3" height="28"/><rect class="c9" x="2377.4" y="60" width="26.3" height="28"/><rect class="c10" x="2403.7" y="60" width="26.3" height="28"/><rect class="c1" x="2430" y="60" width="26.3" height="28"/><rect class="c2" x="2456.3" y="60" width="26.3" height="28"/><rect class="c3" x="2482.6" y="60" width="26.3" height="28"/><rect class="c4" x="2508.9" y="60" width="26.3" height="28"/><rect class="c5" x="2535.2" y="60" width="26.3" height="28"/><rect class="c6" x="2561.5" y="60" width="26.3" height="28"/>
</g>
<g id="p5-heat">
<rect class="c2" x="2176.1" y="102" width="9.1" height="32.1" fill-opacity="0.03"/><rect class="c3" x="2185.1" y="102" width="9.1" height="32.1" fill-opacity="0.05"/><rect class="c5" x="2203.2" y="102" width="9.1" height="32.1" fill-opacity="0.04"/><rect class="c8" x="2230.4" y="102" width="9.1" height="32.1" fill-opacity="0.05"/>
<rect class="c2" x="2176.1" y="166.2" width="9.1" height="32.1" fill-opacity="0.05"/><rect class="c3" x="2185.1" y="166.2" width="9.1" height="32.1" fill-opacity="0.08"/>
<rect class="c3" x="2185.1" y="198.3" width="9.1" height="32.1" fill-opacity="0.05"/>
<rect class="c3" x="2185.1" y="230.4" width="9.1" height="32.1" fill-opacity="0.04"/>
<rect class="c2" x="2176.1" y="583.5" width="9.1" height="32.1" fill-opacity="0.03"/><rect class="c8" x="2230.4" y="583.5" width="9.1" height="32.1" fill-opacity="0.3"/><rect class="c9" x="2239.5" y="583.5" width="9.1" height="32.1" fill-opacity="0.06"/>
<rect class="c1" x="2257.6" y="615.6" width="9.1" height="32.1" fill-opacity="0.06"/>
<rect class="c8" x="2230.4" y="679.8" width="9.1" height="32.1" fill-opacity="0.35"/>
<rect class="c3" x="2185.1" y="776.1" width="9.1" height="32.1" fill-opacity="0.06"/>
<rect class="c8" x="2230.4" y="872.4" width="9.1" height="32.1" fill-opacity="0.3"/><rect class="c9" x="2239.5" y="872.4" width="9.1" height="32.1" fill-opacity="0.06"/>
<rect class="c1" x="2257.6" y="904.5" width="9.1" height="32.1" fill-opacity="0.05"/>
<rect class="c1" x="2167" y="936.6" width="9.1" height="32.1" fill-opacity="0.1"/>
<rect class="c3" x="2185.1" y="968.7" width="9.1" height="32.1" fill-opacity="0.05"/><rect class="c4" x="2194.2" y="968.7" width="9.1" height="32.1" fill-opacity="0.1"/><rect class="c8" x="2230.4" y="968.7" width="9.1" height="32.1" fill-opacity="0.12"/><rect class="c10" x="2248.5" y="968.7" width="9.1" height="32.1" fill-opacity="0.06"/><rect class="c3" x="2275.7" y="968.7" width="9.1" height="32.1" fill-opacity="0.05"/><rect class="c5" x="2293.8" y="968.7" width="9.1" height="32.1" fill-opacity="0.5"/><rect class="c6" x="2302.9" y="968.7" width="9.1" height="32.1" fill-opacity="0.4"/>
<rect class="c3" x="2185.1" y="1000.8" width="9.1" height="32.1" fill-opacity="0.04"/><rect class="c5" x="2203.2" y="1000.8" width="9.1" height="32.1" fill-opacity="0.04"/><rect class="c8" x="2230.4" y="1000.8" width="9.1" height="32.1" fill-opacity="0.05"/>
</g>
<g id="p5-target-box"><rect class="hl" x="2463" y="969.7" width="145" height="32"/></g>
<g class="conn" id="p5-connectors" stroke-width="1.6">
<line x1="2312" y1="118" x2="2463" y2="984.7" stroke="#c8cabb" stroke-width="2.6"/>
<line x1="2312" y1="150.1" x2="2463" y2="984.7" stroke="#eceee4"/>
<line x1="2312" y1="182.2" x2="2463" y2="984.7" stroke="#e2e6d3" stroke-width="2.2"/>
<line x1="2312" y1="214.3" x2="2463" y2="984.7" stroke="#e3e7d5" stroke-width="2.2"/>
<line x1="2312" y1="246.4" x2="2463" y2="984.7" stroke="#e2e6d6" stroke-width="2.2"/>
<line x1="2312" y1="278.5" x2="2463" y2="984.7" stroke="#e7eade"/>
<line x1="2312" y1="310.6" x2="2463" y2="984.7" stroke="#e1e7d4"/>
<line x1="2312" y1="342.7" x2="2463" y2="984.7" stroke="#dde5cf" stroke-width="2.2"/>
<line x1="2312" y1="374.8" x2="2463" y2="984.7" stroke="#e3e8d8"/>
<line x1="2312" y1="406.9" x2="2463" y2="984.7" stroke="#e5e9da"/>
<line x1="2312" y1="439" x2="2463" y2="984.7" stroke="#e1e6d5"/>
<line x1="2312" y1="471.1" x2="2463" y2="984.7" stroke="#dee4d0" stroke-width="2.2"/>
<line x1="2312" y1="503.2" x2="2463" y2="984.7" stroke="#e3e7d9"/>
<line x1="2312" y1="535.3" x2="2463" y2="984.7" stroke="#eaece3"/>
<line x1="2312" y1="567.4" x2="2463" y2="984.7" stroke="#e4e8da"/>
<line x1="2312" y1="599.5" x2="2463" y2="984.7" stroke="#b9bca9" stroke-width="2.6"/>
<line x1="2312" y1="631.6" x2="2463" y2="984.7" stroke="#e3e5d9" stroke-width="2.2"/>
<line x1="2312" y1="663.7" x2="2463" y2="984.7" stroke="#e7e9df"/>
<line x1="2312" y1="695.8" x2="2463" y2="984.7" stroke="#a6a899" stroke-width="3"/>
<line x1="2312" y1="727.9" x2="2463" y2="984.7" stroke="#e5e7dd"/>
<line x1="2312" y1="760" x2="2463" y2="984.7" stroke="#eaece5"/>
<line x1="2312" y1="792.1" x2="2463" y2="984.7" stroke="#d6dac5" stroke-width="2.2"/>
<line x1="2312" y1="824.2" x2="2463" y2="984.7" stroke="#e2e4da" stroke-width="2.2"/>
<line x1="2312" y1="856.3" x2="2463" y2="984.7" stroke="#edeee9"/>
<line x1="2312" y1="888.4" x2="2463" y2="984.7" stroke="#b4b6a2" stroke-width="3"/>
<line x1="2312" y1="920.5" x2="2463" y2="984.7" stroke="#dfe1d9" stroke-width="2.2"/>
<line x1="2312" y1="952.6" x2="2463" y2="984.7" stroke="#d7e0ed" stroke-width="2.6"/>
<line x1="2312" y1="984.7" x2="2463" y2="984.7" stroke="#a78ba5" stroke-width="3.5"/>
<line x1="2312" y1="1016.8" x2="2463" y2="984.7" stroke="#cac8bb" stroke-width="2.6"/>
</g>
<g id="p5-tokens" class="tk" font-size="20">
<g id="p5-L0"><text class="l" x="2301" y="125">&lt;s&gt;</text></g><g id="p5-R0"><text x="2473" y="125">&lt;s&gt;</text></g>
<g id="p5-L1"><text class="l" x="2301" y="157.1">how</text></g><g id="p5-R1"><text x="2473" y="157.1">how</text></g>
<g id="p5-L2"><text class="l" x="2301" y="189.2">far</text></g><g id="p5-R2"><text x="2473" y="189.2">far</text></g>
<g id="p5-L3"><text class="l" x="2301" y="221.3">venue</text></g><g id="p5-R3"><text x="2473" y="221.3">venue</text></g>
<g id="p5-L4"><text class="l" x="2301" y="253.4">of</text></g><g id="p5-R4"><text x="2473" y="253.4">of</text></g>
<g id="p5-L5"><text class="l" x="2301" y="285.5">se</text></g><g id="p5-R5"><text x="2473" y="285.5">se</text></g>
<g id="p5-L6"><text class="l" x="2301" y="317.6">oul</text></g><g id="p5-R6"><text x="2473" y="317.6">oul</text></g>
<g id="p5-L7"><text class="l" x="2301" y="349.7">,</text></g><g id="p5-R7"><text x="2473" y="349.7">,</text></g>
<g id="p5-L8"><text class="l" x="2301" y="381.8">south</text></g><g id="p5-R8"><text x="2473" y="381.8">south</text></g>
<g id="p5-L9"><text class="l" x="2301" y="413.9">k</text></g><g id="p5-R9"><text x="2473" y="413.9">k</text></g>
<g id="p5-L10"><text class="l" x="2301" y="446">orea</text></g><g id="p5-R10"><text x="2473" y="446">orea</text></g>
<g id="p5-L11"><text class="l" x="2301" y="478.1">is</text></g><g id="p5-R11"><text x="2473" y="478.1">is</text></g>
<g id="p5-L12"><text class="l" x="2301" y="510.2">?</text></g><g id="p5-R12"><text x="2473" y="510.2">?</text></g>
<g id="p5-L14"><text class="l" x="2301" y="574.4">&lt;/s&gt;</text></g><g id="p5-R14"><text x="2473" y="574.4">&lt;/s&gt;</text></g>
<g id="p5-L15"><text class="l" x="2301" y="606.5">year</text></g><g id="p5-R15"><text x="2473" y="606.5">year</text></g>
<g id="p5-L17"><text class="l" x="2301" y="670.7">&lt;/s&gt;</text></g><g id="p5-R17"><text x="2473" y="670.7">&lt;/s&gt;</text></g>
<g id="p5-L18"><text class="l" x="2301" y="702.8">tournament</text></g><g id="p5-R18"><text x="2473" y="702.8">tournament</text></g>
<g id="p5-L20"><text class="l" x="2301" y="767">&lt;/s&gt;</text></g><g id="p5-R20"><text x="2473" y="767">&lt;/s&gt;</text></g>
<g id="p5-L21"><text class="l" x="2301" y="799.1">venue</text></g><g id="p5-R21"><text x="2473" y="799.1">venue</text></g>
<g id="p5-L23"><text class="l" x="2301" y="863.3">&lt;/s&gt;</text></g><g id="p5-R23"><text x="2473" y="863.3">&lt;/s&gt;</text></g>
<g id="p5-L24"><text class="l" x="2301" y="895.4">distance</text></g><g id="p5-R24"><text x="2473" y="895.4">distance</text></g>
<g id="p5-L26"><text class="l" x="2301" y="959.6">&lt;/s&gt;</text></g><g id="p5-R26"><text x="2473" y="959.6">&lt;/s&gt;</text></g>
<g id="p5-L27"><text class="l" x="2301" y="991.7">result</text></g><g id="p5-R27"><text x="2473" y="991.7">result</text></g>
<g id="p5-L28"><text class="l" x="2301" y="1023.8">&lt;/s&gt;</text></g><g id="p5-R28"><text x="2473" y="1023.8">&lt;/s&gt;</text></g>
</g>
</g>
</svg>
